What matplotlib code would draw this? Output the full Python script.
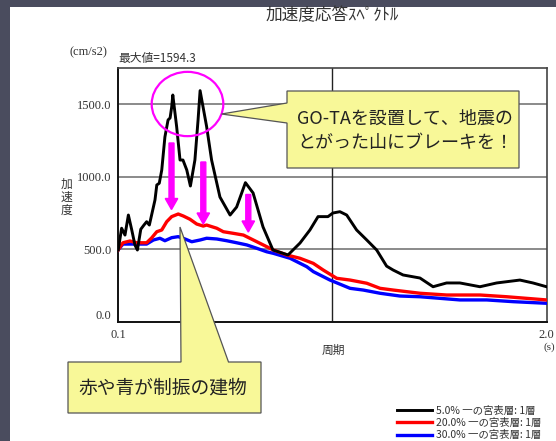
import matplotlib
matplotlib.use('Agg')
import matplotlib.pyplot as plt
from matplotlib import patches, transforms
import numpy as np

# ---------------- data ----------------
period_black = [0.101, 0.116, 0.131, 0.146, 0.161, 0.175, 0.186, 0.201, 0.215, 0.227,
                0.239, 0.249, 0.264, 0.272, 0.283, 0.294, 0.308, 0.322, 0.331, 0.338,
                0.343, 0.360, 0.375, 0.388, 0.405, 0.421, 0.441, 0.455, 0.464, 0.493,
                0.515, 0.552, 0.597, 0.626, 0.665, 0.699, 0.743, 0.787, 0.854, 0.907,
                0.951, 0.987, 1.031, 1.053, 1.084, 1.114, 1.158, 1.203, 1.247, 1.291,
                1.320, 1.364, 1.439, 1.497, 1.557, 1.616, 1.705, 1.779, 1.882, 1.940,
                2.000]
accel_black = [496, 646, 599, 737, 634, 531, 496, 639, 668, 691,
               668, 737, 841, 944, 956, 1047, 1275, 1392, 1406, 1481,
               1564, 1346, 1116, 1116, 1047, 937, 1116, 1392, 1594, 1346,
               1116, 861, 737, 792, 960, 889, 655, 496, 462, 544,
               634, 726, 726, 751, 760, 737, 634, 565, 496, 385,
               358, 324, 303, 243, 269, 269, 243, 269, 289, 269,
               243]

period_red = [0.100, 0.122, 0.153, 0.183, 0.227, 0.249, 0.272, 0.294, 0.316, 0.338,
              0.367, 0.390, 0.419, 0.449, 0.478, 0.493, 0.538, 0.567, 0.611, 0.656,
              0.700, 0.744, 0.789, 0.848, 0.907, 0.966, 1.010, 1.070, 1.129, 1.203,
              1.262, 1.321, 1.439, 1.557, 1.705, 1.824, 1.912, 2.000]
accel_red = [496, 546, 558, 546, 546, 579, 622, 634, 691, 726,
             744, 730, 708, 675, 661, 668, 646, 622, 611, 599,
             565, 531, 496, 462, 439, 404, 358, 301, 289, 267,
             232, 220, 198, 186, 186, 174, 163, 152]

period_blue = [0.100, 0.122, 0.153, 0.227, 0.257, 0.286, 0.308, 0.338, 0.367, 0.397,
               0.427, 0.464, 0.493, 0.538, 0.582, 0.626, 0.671, 0.715, 0.759, 0.789,
               0.863, 0.937, 0.966, 1.040, 1.129, 1.188, 1.262, 1.350, 1.439, 1.528,
               1.616, 1.735, 1.853, 2.000]
accel_blue = [496, 537, 537, 537, 565, 577, 560, 581, 588, 572,
              553, 565, 577, 572, 560, 546, 531, 508, 484, 473,
              439, 381, 347, 289, 232, 220, 198, 179, 174, 163,
              152, 152, 140, 129]

series_labels = ['5.0% 一の宮表層: 1層', '20.0% 一の宮表層: 1層', '30.0% 一の宮表層: 1層']
series_colors = ['#000000', '#ff0000', '#0000ff']

y_ticks = [0, 500, 1000, 1500]
y_tick_labels = ['0.0', '500.0', '1000.0', '1500.0']
x_ticks = [0.1, 2.0]
x_tick_labels = ['0.1', '2.0']
x_limits = (0.1, 2.0)
y_limits = (0, 1750)
max_value = 1594.3

title_text = '加速度応答ｽﾍﾟｸﾄﾙ'
callout1_lines = ['GO-TAを設置して、地震の', 'とがった山にブレーキを！']
callout2_text = '赤や青が制振の建物'

# ---------------- figure ----------------
W, H = 556, 441
CJK = ['Noto Sans CJK JP', 'DejaVu Sans']
SERIF = ['Liberation Serif', 'DejaVu Serif']

fig = plt.figure(figsize=(W / 100, H / 100), dpi=100, facecolor='#4a4c5e')
pix = transforms.Affine2D().scale(1 / W, -1 / H).translate(0, 1) + fig.transFigure

fig.add_artist(patches.Rectangle((9.5, 6.5), W, H, transform=pix,
                                 facecolor='white', edgecolor='none', zorder=-10))

ax = fig.add_axes([118 / W, 1 - 322 / H, (546.5 - 118) / W, (322 - 68) / H])
ax.set_xlim(*x_limits)
ax.set_ylim(*y_limits)

l_black, = ax.plot(period_black, accel_black, color=series_colors[0], lw=2.1, zorder=5)
l_red, = ax.plot(period_red, accel_red, color=series_colors[1], lw=2.4, zorder=4)
l_blue, = ax.plot(period_blue, accel_blue, color=series_colors[2], lw=2.4, zorder=3)

ax.set_yticks(y_ticks)
ax.set_yticklabels(y_tick_labels)
ax.set_xticks(x_ticks)
ax.set_xticklabels(x_tick_labels)
ax.tick_params(length=0, pad=5, labelsize=9, colors='#333333')
for lab in ax.get_xticklabels() + ax.get_yticklabels():
    lab.set_family(SERIF)
ax.get_yaxis().get_major_ticks()[0].label1.set_verticalalignment('bottom')

for y in y_ticks[1:]:
    ax.axhline(y, color='#777777', lw=1.2, zorder=1)
ax.axvline(np.mean(x_limits), color='#222222', lw=1.0, zorder=1)

for side in ['left', 'bottom']:
    ax.spines[side].set_color('#111111')
    ax.spines[side].set_linewidth(1.4)
for side in ['top', 'right']:
    ax.spines[side].set_color('#444444')
    ax.spines[side].set_linewidth(1.2)

# texts
fig.text(332, 16, title_text, transform=pix, ha='center', va='center',
         fontsize=12, family=CJK, color='#333333')
fig.text(70, 52, '(cm/s2)', transform=pix, ha='left', va='center',
         fontsize=9, family=SERIF, color='#333333')
fig.text(118, 58.5, f'最大値={max_value}', transform=pix, ha='left', va='center',
         fontsize=8.5, family=CJK, color='#333333')
fig.text(66.5, 197, '加\n速\n度', transform=pix, ha='center', va='center',
         fontsize=8.5, family=CJK, color='#333333', linespacing=1.0)
fig.text(333, 350, '周期', transform=pix, ha='center', va='center',
         fontsize=8.5, family=CJK, color='#333333')
fig.text(555.5, 347, '(s)', transform=pix, ha='right', va='center',
         fontsize=8, family=SERIF, color='#333333')

# legend
leg = fig.legend([l_black, l_red, l_blue], series_labels, loc='upper left',
                 bbox_to_anchor=(396.5 / W, 1 - 406 / H), frameon=False,
                 prop={'family': CJK, 'size': 7.5}, handlelength=3.4,
                 handletextpad=0.35, labelspacing=0.2, borderpad=0, borderaxespad=0)
for t in leg.get_texts():
    t.set_color('#333333')

# annotations: ellipse
fig.add_artist(patches.Ellipse((187.5, 104), 71.6, 64.3, transform=pix, fill=False,
                               edgecolor='#ff00ff', lw=1.6, zorder=6))

# magenta arrows
for x0, y0, y1 in [(171.5, 143, 209.5), (203.3, 162, 224), (248.3, 194.5, 232)]:
    fig.add_artist(patches.FancyArrow(x0, y0, 0, y1 - y0, width=5, head_width=12.5,
                                      head_length=11, length_includes_head=True,
                                      transform=pix, color='#ff00ff', zorder=6))

# callout 1
c1 = [(287, 91), (519, 91), (519, 168), (287, 168), (287, 123), (221.5, 114), (287, 103)]
fig.add_artist(patches.Polygon(c1, closed=True, transform=pix, facecolor='#f8f898',
                               edgecolor='#555555', lw=0.9, zorder=7))
fig.text(297, 119, callout1_lines[0], transform=pix, ha='left', va='center',
         fontsize=13, family=CJK, color='#222222', zorder=8)
fig.text(297, 143, callout1_lines[1], transform=pix, ha='left', va='center',
         fontsize=13, family=CJK, color='#222222', zorder=8)

# callout 2
c2 = [(68, 362), (181, 362), (180, 227), (228.5, 362), (261, 362), (261, 413), (68, 413)]
fig.add_artist(patches.Polygon(c2, closed=True, transform=pix, facecolor='#f8f898',
                               edgecolor='#555555', lw=0.9, zorder=7))
fig.text(78, 388, callout2_text, transform=pix, ha='left', va='center',
         fontsize=13.5, family=CJK, color='#222222', zorder=8)

fig.savefig('out.png', dpi=100, facecolor=fig.get_facecolor())
